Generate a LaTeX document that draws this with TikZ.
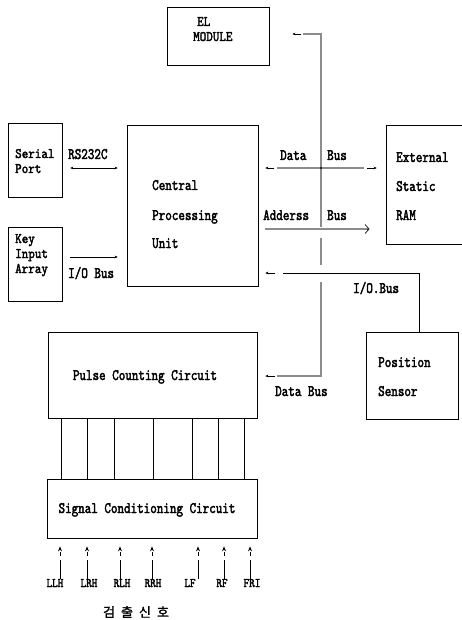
\documentclass[tikz,border=0pt]{standalone}
\usepackage{fontspec}
\newfontfamily\dotfont{lmmono10-regular.otf}[FakeStretch=0.78,FakeBold=2.2]
\newfontfamily\narrowfont{lmmono10-regular.otf}[FakeStretch=0.86,FakeBold=2.2]
\newfontfamily\tagfont{lmmono10-regular.otf}[FakeStretch=0.82,FakeBold=2.2]
\newfontfamily\kfont{Noto Sans CJK KR}[FakeBold=1.5]
\usetikzlibrary{arrows.meta}

\tikzset{
  box/.style={draw, line width=0.8pt, inner sep=0pt},
  txt/.style={font=\dotfont\fontsize{16pt}{18pt}\selectfont, inner sep=0pt, anchor=base west,
    text height=10pt, text depth=2.5pt},
  tight/.style={font=\narrowfont\fontsize{14.5pt}{15pt}\selectfont, inner sep=0pt, anchor=base west,
    text height=9pt, text depth=2pt},
  ctxt/.style={txt, anchor=base},
  tag/.style={font=\tagfont\fontsize{13pt}{15pt}\selectfont, inner sep=0pt, anchor=base,
    text height=8pt, text depth=0pt},
  thin wire/.style={line width=0.7pt},
  bus/.style={draw=black!85, line width=0.75pt, double=black!45, double distance=1.4pt},
  stub/.style={line width=0.6pt, -{Stealth[length=3pt,width=2.8pt]}},
  twostub/.style={line width=0.6pt, {Stealth[length=3pt,width=2.8pt]}-{Stealth[length=3pt,width=2.8pt]}},
  inarrow/.style={line width=0.7pt, dash pattern=on 19pt off 4pt on 4pt, -{Stealth[length=5pt,width=4pt]}},
  wide tip/.style={line width=0.8pt, draw=black!85, -{Straight Barb[length=4pt,width=9pt]}}
}

\begin{document}
\begin{tikzpicture}[x=1pt, y=-1pt]
\useasboundingbox (0,0) rectangle (461,620);

% ---- blocks ----
\node[box, minimum width=102pt, minimum height=58pt]  (el)     at (218,36)    {};
\node[box, minimum width=54pt,  minimum height=74pt]  (serial) at (35,160)    {};
\node[box, minimum width=54pt,  minimum height=74pt]  (key)    at (35,264)    {};
\node[box, minimum width=131pt, minimum height=161pt] (cpu)    at (192.5,205.5) {};
\node[box, minimum width=94pt,  minimum height=119pt] (ram)    at (433,184.5) {};
\node[box, minimum width=92pt,  minimum height=87pt]  (pos)    at (412,375.5) {};
\node[box, minimum width=209pt, minimum height=86pt]  (pulse)  at (152.5,375) {};
\node[box, minimum width=210pt, minimum height=59pt]  (sig)    at (152,508.5) {};

% ---- block texts ----
\node[tight] (elA) at (197,26) {EL};
\node[tight] (elB) at (193,41) {MODULE};
\node[tight] (serA) at (15,158) {Serial};
\node[tight] (serB) at (15,173) {Port};
\node[tight] (keyA) at (15,243) {Key};
\node[tight] (keyB) at (15,258) {Input};
\node[tight] (keyC) at (15,273) {Array};
\node[txt] (cpuA) at (152,190) {Central};
\node[txt] (cpuB) at (152,220) {Processing};
\node[txt] (cpuC) at (152,248) {Unit};
\node[txt] (ramA) at (396,162) {External};
\node[txt] (ramB) at (396,191) {Static};
\node[txt] (ramC) at (396,220) {RAM};
\node[txt] (posA) at (378,367) {Position};
\node[txt] (posB) at (378,396) {Sensor};
\node[ctxt] (pulseT) at (145,380) {Pulse Counting Circuit};
\node[ctxt] (sigT) at (147,513) {Signal Conditioning Circuit};

% ---- connector labels ----
\node[txt] (rs) at (68,159) {RS232C};
\node[txt] (kio) at (68,278) {I/O Bus};
\node[txt] (dbA) at (280,160) {Data};
\node[txt] (dbB) at (327,160) {Bus};
\node[txt] (abA) at (263,220) {Adderss};
\node[txt] (abB) at (327,220) {Bus};
\node[txt] (pio) at (353,293) {I/O.Bus};
\node[txt] (pdb) at (275,396) {Data Bus};

% ---- serial and key links ----
\draw[twostub] ([xshift=8pt]serial.east |- 0,168) -- ([xshift=-9pt]cpu.west |- 0,168);
\draw[stub]    ([xshift=8pt]key.east |- 0,257) -- ([xshift=-9pt]cpu.west |- 0,257);

% ---- data bus CPU <-> RAM ----
\coordinate (dL) at ([xshift=19pt]cpu.east |- 0,168);
\coordinate (dR) at ([xshift=-22pt]ram.west |- 0,168);
\draw[bus] (dL) -- (dR);
\draw[stub] ([xshift=-3pt]dL) -- ([xshift=7pt]cpu.east |- 0,168);
\draw[stub] ([xshift=3pt]dR) -- ([xshift=-9pt]ram.west |- 0,168);

% ---- address bus CPU -> RAM ----
\coordinate (aL) at ([xshift=7pt]cpu.east |- 0,229);
\coordinate (aR) at ([xshift=-17pt]ram.west |- 0,229);
\draw[bus] (aL) -- (aR);
\draw[wide tip] ([xshift=-2pt]aR) -- ([xshift=1pt]aR);

% ---- shared data bus: EL module, RAM bus, pulse counter ----
\coordinate (vx) at (321,0);
\coordinate (elEnd) at ([xshift=34pt]el.east |- 0,34);
\coordinate (pcEnd) at ([xshift=20pt]pulse.east |- 0,376);
\draw[bus] (elEnd) -- (vx |- elEnd) -- (vx |- 0,227);
\draw[bus] (vx |- 0,238) -- (vx |- 0,265);
\draw[bus] (vx |- 0,282) -- (vx |- pcEnd) -- (pcEnd);
\fill[black!85] (vx |- dL) circle (1.3pt);
\draw[stub] ([xshift=-2pt]elEnd) -- ([xshift=23pt]el.east |- 0,34);
\draw[stub] ([xshift=-2pt]pcEnd) -- ([xshift=8pt]pulse.east |- 0,376);

% ---- position sensor I/O bus ----
\draw[thin wire] ([xshift=7pt]pos.north) |- ([xshift=25pt]cpu.east |- 0,273);
\draw[stub] ([xshift=17pt]cpu.east |- 0,273) -- ([xshift=7pt]cpu.east |- 0,273);

% ---- pulse counter to signal conditioner ----
\foreach \xx in {61,87,114,153,192,218,244}
  \draw[thin wire] (pulse.south -| \xx,0) -- (sig.north -| \xx,0);

% ---- detector inputs ----
\node[tag] (llh) at (55,587)  {LLH};
\node[tag] (lrh) at (89,587)  {LRH};
\node[tag] (rlh) at (122,587) {RLH};
\node[tag] (rrh) at (153,587) {RRH};
\node[tag] (lf)  at (190,587) {LF};
\node[tag] (rf)  at (222,587) {RF};
\node[tag] (fri) at (252,587) {FRI};
\foreach \n/\xx in {llh/60,lrh/87,rlh/120,rrh/152,lf/198,rf/224,fri/250}
  \draw[inarrow] (\n.north -| \xx,0) -- ([yshift=-8pt]sig.south -| \xx,0);

\node[font=\kfont\fontsize{13pt}{15pt}\selectfont, inner sep=0pt] (ksig) at (136,612)
  {검\hspace{6pt}출\hspace{6pt}신\hspace{6pt}호};
\end{tikzpicture}
\end{document}
